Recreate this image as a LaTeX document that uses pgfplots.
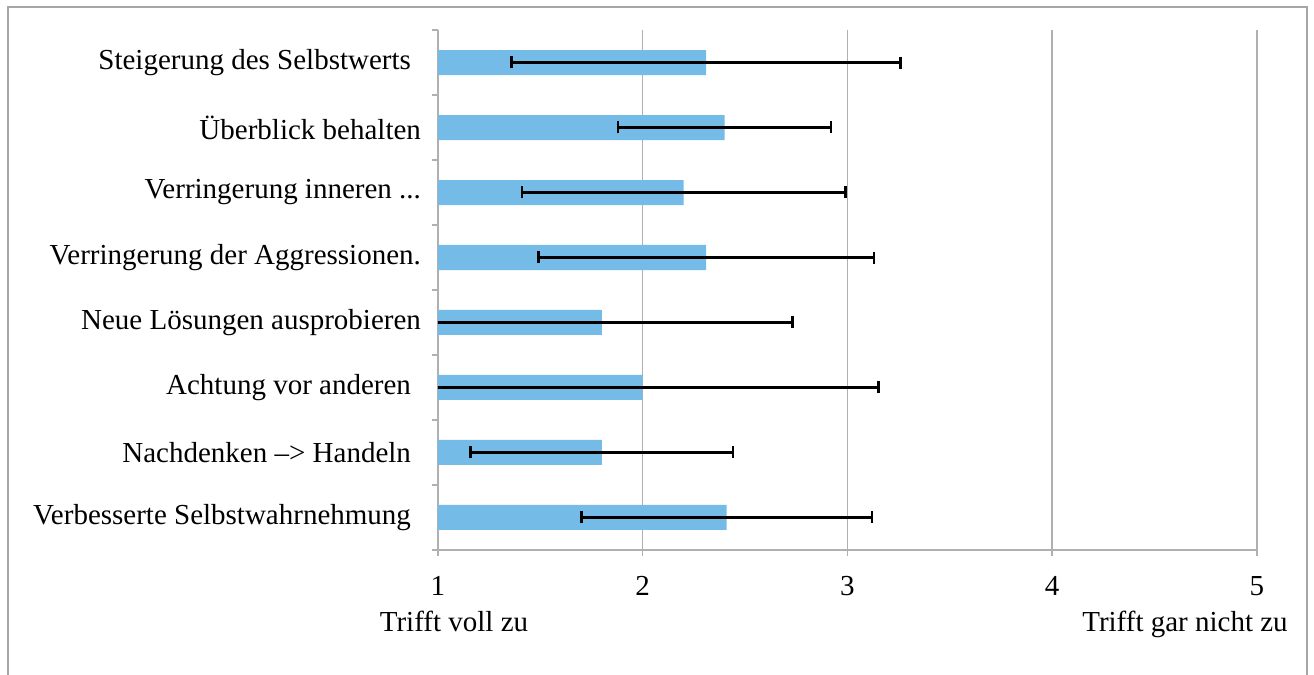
\documentclass[border=0pt]{standalone}
\usepackage{fontspec}
\setmainfont{Liberation Serif}
\usepackage{pgfplots}
\pgfplotsset{compat=1.18}
\usepackage{pgfplotstable}
\definecolor{barblue}{RGB}{117,187,231}
\definecolor{gridgray}{RGB}{176,176,176}
\definecolor{framegray}{RGB}{166,166,166}
\newcommand\fs{\fontsize{14.5}{17}\selectfont}
\newcommand\dotsthree{.\kern0pt.\kern0pt.}

% y: category position (0 = bottom), mean and standard deviation
\pgfplotstableread{
y mean err
7 2.31 0.95
6 2.40 0.52
5 2.20 0.79
4 2.31 0.82
3 1.80 0.93
2 2.00 1.15
1 1.80 0.64
0 2.41 0.71
}\means

\begin{document}
\begin{tikzpicture}
\useasboundingbox (0,0) rectangle (657pt,337.5pt);
\draw[framegray, line width=0.75pt] (4pt,-5pt) -- (4pt,334pt) -- (653.5pt,334pt) -- (653.5pt,-5pt);
\begin{axis}[
  at={(219pt,62.5pt)}, anchor=south west,
  width=409.5pt, height=260pt, scale only axis,
  xmin=1, xmax=5, ymin=-0.5, ymax=7.5,
  axis x line*=bottom, axis y line*=left,
  axis line style={gridgray, line width=0.75pt},
  xtick={1,2,3,4,5},
  xmajorgrids, grid style={gridgray, line width=0.75pt},
  tick align=outside, major tick length=3pt,
  tick style={gridgray, line width=0.75pt},
  ytick={-0.5,0.5,...,7.5}, yticklabels={},
  extra y ticks={0,1,2,3,4,5,6,7},
  extra y tick labels={
    {Verbesserte Selbstwahrnehmung\kern5pt},
    {Nachdenken –> Handeln\kern5pt},
    {Achtung vor anderen\kern5pt},
    {Neue Lösungen ausprobieren},
    {Verringerung der Aggressionen.},
    {Verringerung inneren \dotsthree},
    {Überblick behalten},
    {Steigerung des Selbstwerts\kern5pt}},
  extra y tick style={tick style={draw=none}},
  /pgf/number format/assume math mode=true,
  ticklabel style={font=\fs},
  xticklabel style={yshift=-6.5pt},
  yticklabel style={xshift=-2pt},
]
\addplot[xbar, bar width=12.5pt, fill=barblue, draw=none,
  error bars/.cd, x dir=both, x explicit,
  error bar style={black, line width=1.3pt},
  error mark options={black, line width=1.3pt, mark size=3pt, rotate=90}]
  table[x=mean, y=y, x error=err] {\means};
\end{axis}
\node[anchor=base, font=\fs] at (227pt,21.5pt) {Trifft voll zu};
\node[anchor=base, font=\fs] at (592.5pt,21.5pt) {Trifft gar nicht zu};
\end{tikzpicture}
\end{document}
